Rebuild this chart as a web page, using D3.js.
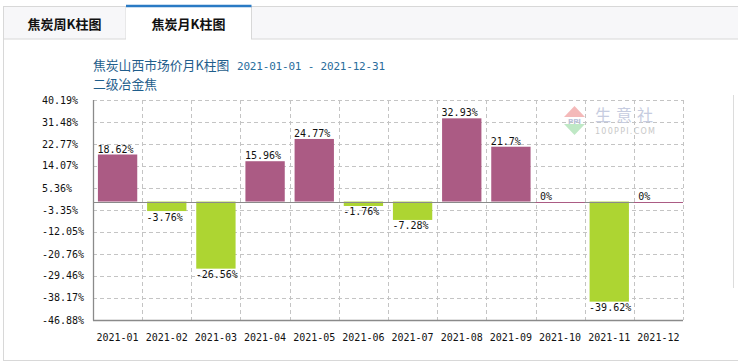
<!DOCTYPE html>
<html><head><meta charset="utf-8">
<script src="https://cdn.jsdelivr.net/npm/d3@7"></script>
<style>body{margin:0;background:#fff;}svg{display:block;}</style>
</head><body>
<svg id="c" width="738" height="364"></svg>
<script>
const months = ["2021-01","2021-02","2021-03","2021-04","2021-05","2021-06","2021-07","2021-08","2021-09","2021-10","2021-11","2021-12"];
const values = [18.62,-3.76,-26.56,15.96,24.77,-1.76,-7.28,32.93,21.7,0,-39.62,0];
const yTicks = [40.19,31.48,22.77,14.07,5.36,-3.35,-12.05,-20.76,-29.46,-38.17,-46.88];
const tabs = ["焦炭周K柱图","焦炭月K柱图"];
const title = "焦炭山西市场价月K柱图";
const dateRange = "2021-01-01 - 2021-12-31";
const subtitle = "二级冶金焦";

const svg = d3.select("#c");
const mono = "'DejaVu Sans Mono', 'Liberation Mono', monospace";
const cjk = "'Noto Sans CJK SC', sans-serif";

// frame & tabs
svg.append("rect").attr("x",251).attr("y",6.5).attr("width",490).attr("height",32.5).attr("fill","#f7f7f9").attr("stroke","#d8d8d8");
svg.append("rect").attr("x",3.5).attr("y",6.5).attr("width",122.5).attr("height",32.5).attr("fill","#f7f7f9").attr("stroke","#d8d8d8");
svg.append("rect").attr("x",126).attr("y",6.5).attr("width",125).attr("height",34).attr("fill","#fff");
svg.append("line").attr("x1",251.5).attr("x2",251.5).attr("y1",6).attr("y2",39).attr("stroke","#d8d8d8");
svg.append("line").attr("x1",126).attr("x2",251.5).attr("y1",6).attr("y2",6).attr("stroke","#2a7ac4").attr("stroke-width",2.5);
svg.append("line").attr("x1",3.5).attr("x2",3.5).attr("y1",39).attr("y2",360).attr("stroke","#d8d8d8");
svg.append("line").attr("x1",3).attr("x2",738).attr("y1",360.5).attr("y2",360.5).attr("stroke","#d8d8d8");
svg.append("line").attr("x1",733.5).attr("x2",733.5).attr("y1",95).attr("y2",288).attr("stroke","#dcdcdc");
svg.selectAll("text.tab").data(tabs).enter().append("text")
  .attr("x",(d,i)=> i===0?64.5:188.5).attr("y",29).attr("text-anchor","middle")
  .attr("font-family",cjk).attr("font-size",13).attr("font-weight","bold").attr("fill","#111").text(d=>d);

// titles
svg.append("text").attr("x",93).attr("y",70).attr("font-family",cjk).attr("font-size",12.8).attr("fill","#1f5e8c").text(title);
svg.append("text").attr("x",237).attr("y",70).attr("font-family",mono).attr("font-size",11).attr("fill","#2a6d9c").attr("textLength",148).text(dateRange);
svg.append("text").attr("x",93).attr("y",89).attr("font-family",cjk).attr("font-size",12.8).attr("fill","#1f5e8c").text(subtitle);

// scales
const x = d3.scaleBand().domain(months).range([93,683]).paddingInner(0);
const y = d3.scaleLinear().domain([yTicks[yTicks.length-1], yTicks[0]]).range([320,100]);
const bw = x.bandwidth();

// grid
const g = svg.append("g");
g.selectAll("line.h").data(yTicks).enter().append("line")
  .attr("x1",93).attr("x2",683).attr("y1",d=>Math.round(y(d))+0.5).attr("y2",d=>Math.round(y(d))+0.5)
  .attr("stroke","#c4c4c4").attr("stroke-dasharray","4,3");
g.selectAll("line.v").data(months).enter().append("line")
  .attr("x1",d=>Math.round(x(d)+bw)+0.5).attr("x2",d=>Math.round(x(d)+bw)+0.5).attr("y1",100).attr("y2",320)
  .attr("stroke","#c4c4c4").attr("stroke-dasharray","4,3");

// watermark
const wm = svg.append("g");
wm.append("path").attr("d","M574.5,106 L585,117 L564,117 Z").attr("fill","#f4b9b9");
wm.append("path").attr("d","M564,124 L585,124 L574.5,135 Z").attr("fill","#bfe8c5");
wm.append("text").attr("x",574.5).attr("y",123.5).attr("text-anchor","middle").attr("font-family","'DejaVu Sans', sans-serif").attr("font-size",7).attr("font-weight","bold").attr("fill","#b8bfd8").text("PPI");
wm.append("text").attr("x",595).attr("y",120.5).attr("font-family",cjk).attr("font-size",16).attr("letter-spacing",5).attr("fill","#c6cce0").text("生意社");
wm.append("text").attr("x",595).attr("y",133.5).attr("font-family","'DejaVu Sans', sans-serif").attr("font-size",8).attr("fill","#c8c8c8").attr("textLength",60).text("100PPI.COM");

// y axis labels
svg.selectAll("text.yl").data(yTicks).enter().append("text")
  .attr("x",42).attr("y",d=>y(d)+3.5).attr("font-family",mono).attr("font-size",10).attr("fill","#111")
  .text(d=>d.toFixed(2)+"%");

// bars
const y0 = y(0);
svg.selectAll("rect.bar").data(values).enter().append("rect")
  .attr("x",(d,i)=>x(months[i])+bw*0.1).attr("width",bw*0.8)
  .attr("y",d=>d>=0?y(d):y0).attr("height",d=>Math.abs(y(d)-y0))
  .attr("fill",d=>d>=0?"#ab5b84":"#add532");

// axes
svg.append("line").attr("x1",93).attr("x2",683).attr("y1",Math.round(y0)+0.5).attr("y2",Math.round(y0)+0.5).attr("stroke","#8a8a8a");
// zero-value lines
svg.selectAll("line.z").data(values.map((v,i)=>({v,i})).filter(d=>d.v===0)).enter().append("line")
  .attr("x1",d=>x(months[d.i])).attr("x2",d=>x(months[d.i])+bw).attr("y1",Math.round(y0)+0.5).attr("y2",Math.round(y0)+0.5)
  .attr("stroke","#ab5b84");
svg.append("line").attr("x1",93.5).attr("x2",93.5).attr("y1",100).attr("y2",320.5).attr("stroke","#8a8a8a").attr("stroke-width",1.3);
svg.append("line").attr("x1",93).attr("x2",683).attr("y1",320.5).attr("y2",320.5).attr("stroke","#8a8a8a").attr("stroke-width",1.3);

// value labels
svg.selectAll("text.vl").data(values).enter().append("text")
  .attr("x",(d,i)=>x(months[i])+bw*0.1-0.5)
  .attr("y",d=>d>=0?y(d)-2:y(d)+9.5)
  .attr("font-family",mono).attr("font-size",10).attr("fill","#111")
  .text(d=>d+"%");

// x labels
svg.selectAll("text.xl").data(months).enter().append("text")
  .attr("x",d=>x(d)+bw/2).attr("y",341).attr("text-anchor","middle")
  .attr("font-family",mono).attr("font-size",10).attr("fill","#111").text(d=>d);
</script>
</body></html>
